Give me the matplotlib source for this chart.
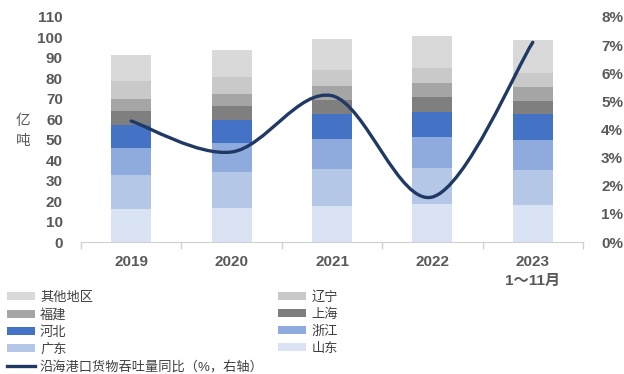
"""Coastal port cargo throughput by province, stacked bars with YoY line."""

import matplotlib

matplotlib.use("Agg")
import matplotlib.pyplot as plt
from matplotlib.patches import PathPatch, Patch
from matplotlib.lines import Line2D
from matplotlib.path import Path
import numpy as np

plt.rcParams["font.family"] = ["Liberation Sans", "Noto Sans CJK SC", "DejaVu Sans"]

YEARS = ["2019", "2020", "2021", "2022", "2023\n1～11月"]

# stacked from bottom to top, 亿吨
SERIES = ["山东", "广东", "浙江", "河北", "上海", "福建", "辽宁", "其他地区"]
SHANDONG = [16.1, 16.5, 17.6, 18.6, 18.1]
GUANGDONG = [16.7, 17.7, 18.1, 17.6, 17.1]
ZHEJIANG = [13.3, 14.2, 14.7, 15.1, 14.8]
HEBEI = [11.1, 11.4, 12.2, 12.4, 12.7]
SHANGHAI = [7.0, 6.7, 7.0, 7.2, 6.4]
FUJIAN = [5.7, 5.9, 6.7, 7.0, 6.8]
LIAONING = [8.8, 8.3, 7.8, 7.3, 6.9]
OTHERS = [12.7, 13.3, 15.2, 15.5, 16.1]

YOY = [4.3, 3.2, 5.2, 1.6, 7.1]  # %
YOY_LABEL = "沿海港口货物吞吐量同比（%，右轴）"

COLORS = ["#dae3f3", "#b4c7e7", "#8faadc", "#4472c4",
          "#7f7f7f", "#a5a5a5", "#c9c9c9", "#d9d9d9"]
LINE_COLOR = "#203864"
TEXT_COLOR = "#595959"


def smooth_path(xs, ys):
    """Catmull-Rom style bezier through the points (like a smoothed line)."""
    pts = np.column_stack([xs, ys]).astype(float)
    ext = np.vstack([pts[0], pts, pts[-1]])
    verts = [pts[0]]
    codes = [Path.MOVETO]
    for i in range(len(pts) - 1):
        p0, p1, p2, p3 = ext[i], ext[i + 1], ext[i + 2], ext[i + 3]
        verts += [p1 + (p2 - p0) / 6, p2 - (p3 - p1) / 6, p2]
        codes += [Path.CURVE4] * 3
    return Path(verts, codes)


def main():
    fig = plt.figure(figsize=(6.24, 3.74), dpi=100)
    ax = fig.add_axes([81 / 624, 132 / 374, 502 / 624, 225 / 374])

    x = np.arange(len(YEARS))
    data = [SHANDONG, GUANGDONG, ZHEJIANG, HEBEI, SHANGHAI, FUJIAN, LIAONING, OTHERS]
    bottom = np.zeros(len(YEARS))
    for name, vals, color in zip(SERIES, data, COLORS):
        ax.bar(x, vals, 0.4, bottom=bottom, color=color, label=name, zorder=2)
        bottom += np.array(vals)

    ax.set_xlim(-0.5, len(YEARS) - 0.5)
    ax.set_ylim(0, 110)
    ax.set_yticks(range(0, 111, 10))
    ax.set_xticks(x)
    ax.set_xticklabels(YEARS, linespacing=1.45)
    ax.set_xticks(np.arange(-0.5, len(YEARS), 1), minor=True)
    ax.tick_params(axis="x", which="major", length=0, pad=9)
    ax.tick_params(axis="x", which="minor", length=5, color="#d0d0d0", width=1)
    ax.tick_params(axis="y", length=0, pad=13)
    for lbl in ax.get_xticklabels() + ax.get_yticklabels():
        lbl.set_fontsize(11)
        lbl.set_fontweight("bold")
        lbl.set_color(TEXT_COLOR)
    for side in ("top", "right", "left"):
        ax.spines[side].set_visible(False)
    ax.spines["bottom"].set_color("#d0d0d0")

    fig.text(23 / 624, 1 - 121 / 374, "亿", ha="center", va="center",
             fontsize=10.5, color=TEXT_COLOR)
    fig.text(23 / 624, 1 - 141 / 374, "吨", ha="center", va="center",
             fontsize=10.5, color=TEXT_COLOR)

    ax2 = ax.twinx()
    ax2.set_ylim(0, 8)
    ax2.set_yticks(range(0, 9))
    ax2.set_yticklabels([f"{v}%" for v in range(0, 9)])
    ax2.tick_params(axis="y", length=0, pad=13)
    for lbl in ax2.get_yticklabels():
        lbl.set_fontsize(11)
        lbl.set_fontweight("bold")
        lbl.set_color(TEXT_COLOR)
    for side in ax2.spines:
        ax2.spines[side].set_visible(False)
    ax2.add_patch(PathPatch(smooth_path(x, YOY), facecolor="none",
                            edgecolor=LINE_COLOR, linewidth=2.4,
                            capstyle="round", zorder=3))

    patches = {name: Patch(facecolor=c) for name, c in zip(SERIES, COLORS)}
    line_handle = Line2D([], [], color=LINE_COLOR, linewidth=2.4)
    col1 = ["其他地区", "福建", "河北", "广东"]
    col2 = ["辽宁", "上海", "浙江", "山东"]
    handles = [patches[n] for n in col1] + [line_handle] + [patches[n] for n in col2]
    labels = col1 + [YOY_LABEL] + col2
    leg = fig.legend(handles, labels, ncol=2, loc="upper left",
                     bbox_to_anchor=(7 / 624, 1 - 291 / 374), frameon=False,
                     fontsize=9.5, handlelength=2.1, handleheight=0.6,
                     handletextpad=0.4, labelspacing=0.36, columnspacing=1.1,
                     borderpad=0, borderaxespad=0)
    for t in leg.get_texts():
        t.set_color("#404040")

    fig.savefig("out.png", dpi=100)
    plt.close(fig)


if __name__ == "__main__":
    main()
